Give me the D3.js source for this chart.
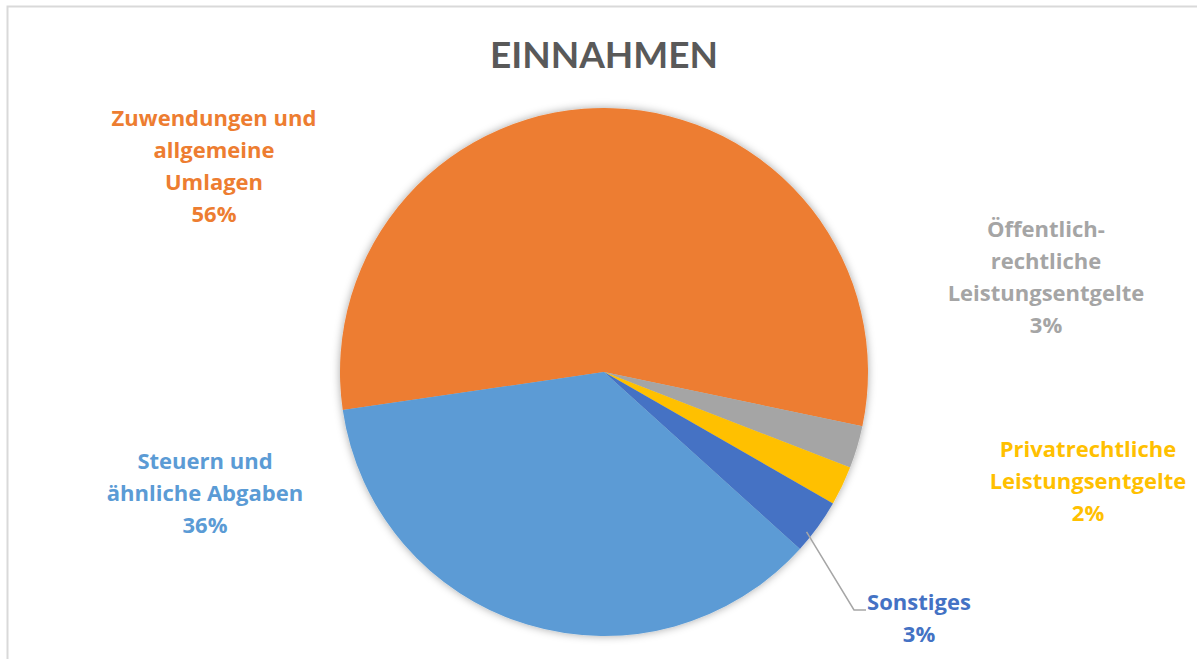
<!DOCTYPE html>
<html>
<head>
<meta charset="utf-8">
<script src="https://cdn.jsdelivr.net/npm/d3@7"></script>
<style>
  body { margin: 0; background: #fff; }
  svg { display: block; }
</style>
</head>
<body>
<div id="chart"></div>
<script>
// slice order clockwise, starting from the left edge of the orange slice
const categories = [
  ['Zuwendungen und', 'allgemeine', 'Umlagen'],
  ['Öffentlich-', 'rechtliche', 'Leistungsentgelte'],
  ['Privatrechtliche', 'Leistungsentgelte'],
  ['Sonstiges'],
  ['Steuern und', 'ähnliche Abgaben']
];
const values = [55.6, 2.6, 2.4, 3.4, 36.0];
const percentLabels = ['56%', '3%', '2%', '3%', '36%'];
const colors = ['#ED7D31', '#A5A5A5', '#FFC000', '#4472C4', '#5B9BD5'];

// label anchors (center x, first baseline y), placed by hand like in the original
const labelPos = [[214, 126], [1046, 237], [1088, 457], [919, 610], [205, 469]];

const width = 1197, height = 659;
const cx = 604, cy = 372, radius = 264;
const lineH = 32;

const svg = d3.select('#chart').append('svg')
  .attr('width', width)
  .attr('height', height);

// chart frame
svg.append('rect')
  .attr('x', 7.5).attr('y', 6.5)
  .attr('width', width + 10).attr('height', height + 10)
  .attr('fill', 'none')
  .attr('stroke', '#d9d9d9')
  .attr('stroke-width', 2);

const defs = svg.append('defs');
const f = defs.append('filter').attr('id', 'shadow')
  .attr('x', '-10%').attr('y', '-10%').attr('width', '120%').attr('height', '120%');
f.append('feDropShadow')
  .attr('dx', 0).attr('dy', 0)
  .attr('stdDeviation', 4)
  .attr('flood-color', '#000')
  .attr('flood-opacity', 0.35);

svg.append('text')
  .attr('x', cx)
  .attr('y', 68)
  .attr('text-anchor', 'middle')
  .attr('font-family', 'Lato, "Open Sans", sans-serif')
  .attr('font-weight', 'bold')
  .attr('font-size', '37px')
  .attr('fill', '#595959')
  .text('EINNAHMEN');

const start = -98.3 * Math.PI / 180;
const pie = d3.pie().sort(null).startAngle(start).endAngle(start + 2 * Math.PI);
const arcs = pie(values);
const arc = d3.arc().innerRadius(0).outerRadius(radius);

const g = svg.append('g')
  .attr('transform', `translate(${cx},${cy})`)
  .attr('filter', 'url(#shadow)');

g.selectAll('path')
  .data(arcs)
  .join('path')
  .attr('d', arc)
  .attr('fill', (d, i) => colors[i]);

// leader line for "Sonstiges"
const sArc = arcs[3];
const mid = (sArc.startAngle + sArc.endAngle) / 2 + 0.04;
const p0 = [cx + Math.sin(mid) * (radius - 6), cy - Math.cos(mid) * (radius - 6)];
const lp = labelPos[3];
svg.append('polyline')
  .attr('points', [p0, [854, lp[1]], [866, lp[1]]].map(p => p.join(',')).join(' '))
  .attr('fill', 'none')
  .attr('stroke', '#a6a6a6')
  .attr('stroke-width', 1.5);

// labels
categories.forEach((lines, i) => {
  const t = svg.append('text')
    .attr('text-anchor', 'middle')
    .attr('font-family', '"Open Sans", Lato, sans-serif')
    .attr('font-weight', 'bold')
    .attr('font-size', '22px')
    .attr('fill', colors[i]);
  lines.concat([percentLabels[i]]).forEach((s, j) => {
    t.append('tspan')
      .attr('x', labelPos[i][0])
      .attr('y', labelPos[i][1] + j * lineH)
      .text(s);
  });
});
</script>
</body>
</html>
